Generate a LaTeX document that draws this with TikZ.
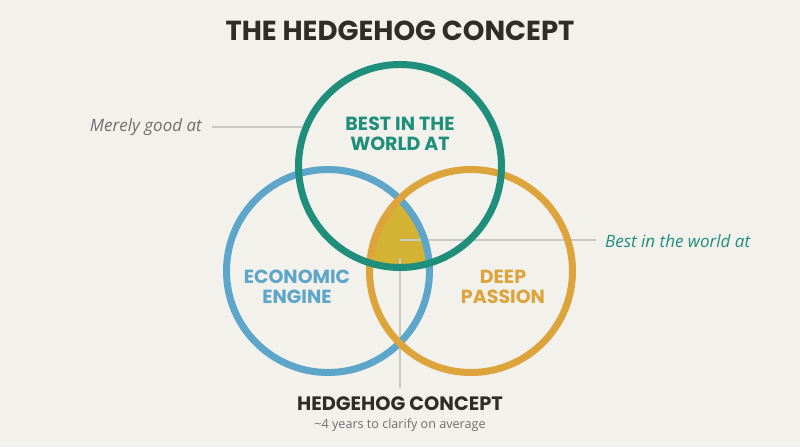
\documentclass[tikz,border=0pt]{standalone}
\usepackage{fontspec}
\setmainfont{Open Sans}
\newfontfamily\headfont{Poppins}[UprightFont=* Bold]
\definecolor{bgc}{HTML}{F2F1EC}
\definecolor{tealc}{HTML}{1F8E7A}
\definecolor{bluec}{HTML}{5DA5C9}
\definecolor{orangec}{HTML}{DCA43A}
\definecolor{yellowc}{HTML}{D4B234}
\definecolor{darkc}{HTML}{2E2D29}
\definecolor{greyt}{HTML}{6E6E6E}
\definecolor{linec}{HTML}{C9C9C4}
\begin{document}
\begin{tikzpicture}[x=1pt,y=-1pt,
  ring/.style={line width=7pt},
  leader/.style={draw=linec,line width=1.2pt},
  head/.style={font=\headfont\fontsize{19}{19.5}\selectfont,align=center,inner sep=0},
  note/.style={font=\itshape\fontsize{17}{20}\selectfont,inner sep=0}]
\useasboundingbox (0,0) rectangle (800,447);
\fill[bgc] (0,0) rectangle (800,447);
% centers
\coordinate (ct) at (400,166);
\coordinate (cb) at (328,271);
\coordinate (co) at (471,271);
% yellow intersection
\begin{scope}
  \clip (ct) circle[radius=101.5];
  \clip (cb) circle[radius=101.5];
  \fill[yellowc] (co) circle[radius=101.5];
\end{scope}
% leader lines
\coordinate (hx) at (400,240);
\coordinate (hv) at (400,258);
\draw[leader] (hx) -- (596,240) coordinate (hr);
\draw[leader] (hv) -- (400,388) coordinate (vb);
% rings
\draw[ring,bluec] (cb) circle[radius=101.5];
\draw[ring,orangec] (co) circle[radius=101.5];
\draw[ring,tealc] (ct) circle[radius=101.5];
% title
\node[head,font=\headfont\fontsize{27.5}{30}\selectfont,text=darkc] (title) at (400,31) {THE HEDGEHOG CONCEPT};
% labels inside
\node[head,text=tealc] (best) at (400,134) {BEST IN THE\\WORLD AT};
\node[head,text=bluec] (econ) at (297,287) {ECONOMIC\\ENGINE};
\node[head,text=orangec] (deep) at (503,287) {DEEP\\PASSION};
% notes
\node[note,text=greyt,anchor=east] (merely) at (202,127) {Merely good at};
\draw[leader] (merely.east) ++(10,0) coordinate (ml) -- (302,127) coordinate (mr);
\node[note,text=tealc,anchor=west] (bestw) at (605,241) {Best in the world at};
% bottom
\node[head,text=darkc,font=\headfont\fontsize{19.4}{22}\selectfont] (hedge) at (400,404) {HEDGEHOG CONCEPT};
\node[inner sep=0,text=greyt,font=\fontsize{12.6}{14}\selectfont] (years) at (400,425) {\textasciitilde4 years to clarify on average};
\end{tikzpicture}
\end{document}
